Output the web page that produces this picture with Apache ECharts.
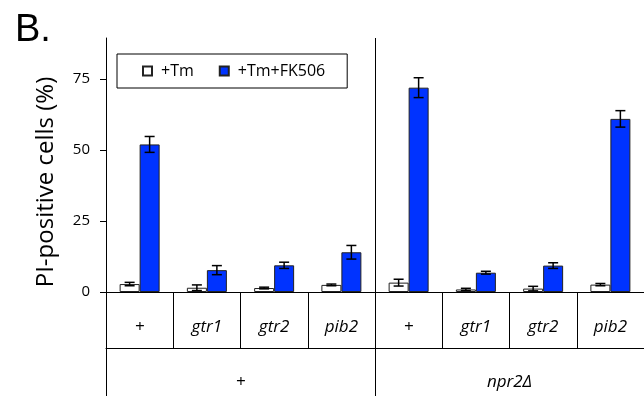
<!DOCTYPE html>
<html>
<head>
<meta charset="utf-8">
<script src="https://cdn.jsdelivr.net/npm/echarts@6/dist/echarts.min.js"></script>
<style>
  html, body { margin: 0; padding: 0; background: #fff; }
  #chart { width: 644px; height: 396px; }
</style>
</head>
<body>
<div id="chart"></div>
<script>
// strains (inner row) and background (outer row)
var strains = ['+', 'gtr1', 'gtr2', 'pib2', '+', 'gtr1', 'gtr2', 'pib2'];
var backgrounds = ['+', 'npr2Δ'];
var yTicks = [0, 25, 50, 75];

// % PI-positive cells
var tm = [2.8, 1.5, 1.4, 2.5, 3.3, 0.9, 1.2, 2.6];
var tmErr = [0.6, 1.0, 0.3, 0.3, 1.2, 0.4, 0.8, 0.4];
var fk = [52, 7.7, 9.4, 14, 72, 6.8, 9.3, 61];
var fkErr = [2.8, 1.6, 1.1, 2.4, 3.5, 0.5, 1.0, 2.9];

var FONT = 'Open Sans';
var BAR_W = 20;

function errData(vals, errs) {
  return vals.map(function (v, i) { return [i, v - errs[i], v + errs[i]]; });
}

function errorRender(offset) {
  return function (params, api) {
    var i = api.value(0);
    var lo = api.coord([i, api.value(1)]);
    var hi = api.coord([i, api.value(2)]);
    var x = lo[0] + offset;
    var cap = 5;
    var style = { stroke: '#000', lineWidth: 1.5 };
    return {
      type: 'group',
      children: [
        { type: 'line', shape: { x1: x, y1: lo[1], x2: x, y2: hi[1] }, style: style },
        { type: 'line', shape: { x1: x - cap, y1: lo[1], x2: x + cap, y2: lo[1] }, style: style },
        { type: 'line', shape: { x1: x - cap, y1: hi[1], x2: x + cap, y2: hi[1] }, style: style }
      ]
    };
  };
}

var chart = echarts.init(document.getElementById('chart'));

var option = {
  animation: false,
  textStyle: { fontFamily: FONT },
  title: {
    text: 'B.',
    left: 10,
    top: 7,
    textStyle: { fontFamily: 'Liberation Sans', fontSize: 38, fontWeight: 'normal', color: '#000' }
  },
  legend: {
    left: 117,
    top: 54,
    icon: 'rect',
    itemWidth: 9,
    itemHeight: 9,
    itemGap: 25,
    padding: [9, 22, 9, 25],
    borderColor: '#000',
    borderWidth: 1,
    textStyle: { fontFamily: FONT, fontSize: 16, color: '#000', padding: [0, 0, 0, 4] },
    data: ['+Tm', '+Tm+FK506']
  },
  grid: { left: 106, right: -4, top: 38, bottom: 104 },
  xAxis: [
    {
      type: 'category',
      data: strains,
      position: 'bottom',
      axisLine: { lineStyle: { color: '#000', width: 1 } },
      axisTick: { show: true, interval: 0, length: 56, lineStyle: { color: '#000', width: 1 } },
      axisLabel: {
        interval: 0,
        margin: 35,
        verticalAlign: 'middle',
        fontFamily: FONT,
        fontSize: 17,
        fontStyle: 'italic',
        color: '#000'
      },
      splitLine: { show: false }
    },
    {
      type: 'category',
      data: backgrounds,
      position: 'bottom',
      offset: 56,
      axisLine: { lineStyle: { color: '#000', width: 1 } },
      axisTick: { show: true, interval: 0, length: 60, lineStyle: { color: '#000', width: 1 } },
      axisLabel: {
        interval: 0,
        margin: 34,
        verticalAlign: 'middle',
        fontFamily: FONT,
        fontSize: 17,
        fontStyle: 'italic',
        color: '#000'
      },
      splitLine: { show: true, interval: 0, lineStyle: { color: '#000', width: 1 } }
    }
  ],
  yAxis: {
    type: 'value',
    min: 0,
    max: 89.5,
    name: 'PI-positive cells (%)',
    nameLocation: 'middle',
    nameGap: 48,
    nameTextStyle: { fontFamily: FONT, fontSize: 24, color: '#000', padding: [0, 34, 0, 0] },
    axisLine: { show: true, lineStyle: { color: '#000', width: 1 } },
    axisTick: { show: true, length: 6, customValues: yTicks, lineStyle: { color: '#000' } },
    axisLabel: { customValues: yTicks, margin: 16, fontFamily: FONT, fontSize: 15, color: '#000' },
    splitLine: { show: false }
  },
  series: [
    {
      name: '+Tm',
      type: 'bar',
      data: tm,
      barWidth: BAR_W,
      barGap: '0%',
      itemStyle: { color: '#fff', borderColor: '#222', borderWidth: 1 }
    },
    {
      name: '+Tm+FK506',
      type: 'bar',
      data: fk,
      barWidth: BAR_W,
      barGap: '0%',
      itemStyle: { color: '#0033ff', borderColor: '#222', borderWidth: 1 }
    },
    {
      type: 'custom',
      data: errData(tm, tmErr),
      renderItem: errorRender(-BAR_W / 2),
      encode: { x: 0, y: [1, 2] },
      z: 5
    },
    {
      type: 'custom',
      data: errData(fk, fkErr),
      renderItem: errorRender(BAR_W / 2),
      encode: { x: 0, y: [1, 2] },
      z: 5
    }
  ]
};

chart.setOption(option);
</script>
</body>
</html>
